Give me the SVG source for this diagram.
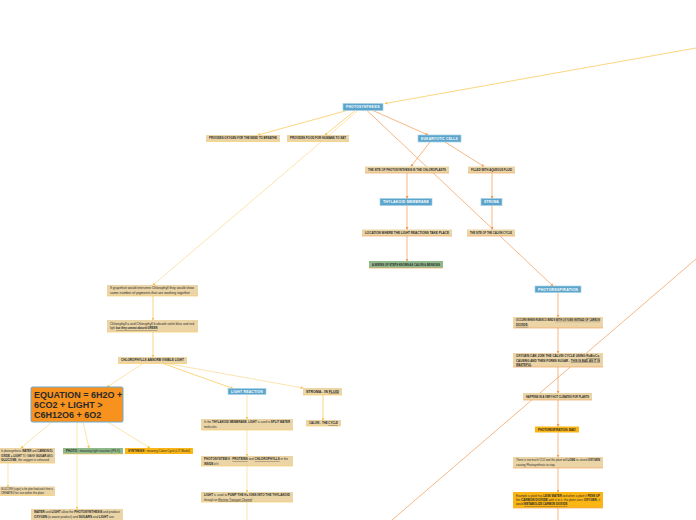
<svg xmlns="http://www.w3.org/2000/svg" width="696" height="520" viewBox="0 0 696 520">
<defs>
<style>
.tan{fill:#ebd5a7}
.blue{fill:#5ba5cc;stroke:#a7d0e6;stroke-width:0.7}
.green{fill:#8fb98b}
.yel{fill:#fbb616}
.bo{stroke:#f3a45c;stroke-width:0.7}
.by{stroke:#f9cd68;stroke-width:0.7}
.ul{stroke:#2a2a2a;stroke-width:0.2}
.t{font-family:"Liberation Sans",Arial,sans-serif;font-size:2.8px;fill:#2a2a2a}
.tb{font-family:"Liberation Sans",Arial,sans-serif;font-size:2.8px;font-weight:bold;fill:#2a2a2a}
.tw{font-family:"Liberation Sans",Arial,sans-serif;font-size:3.5px;font-weight:bold;fill:#ffffff;text-anchor:middle;letter-spacing:0.25px}
.u{text-decoration:underline}
.b{font-weight:bold}
.co{fill:none;stroke:#f29a50;stroke-width:0.7}
.cy{fill:none;stroke:#f8c448;stroke-width:0.7}
.cl{fill:none;stroke:#fbd98c;stroke-width:0.7}
</style>
<marker id="ao" viewBox="0 0 6 6" refX="5" refY="3" markerWidth="3" markerHeight="3" markerUnits="userSpaceOnUse" orient="auto"><path d="M0,0L6,3L0,6z" fill="#f29a50"/></marker>
<marker id="ay" viewBox="0 0 6 6" refX="5" refY="3" markerWidth="3" markerHeight="3" markerUnits="userSpaceOnUse" orient="auto"><path d="M0,0L6,3L0,6z" fill="#f8c448"/></marker>
</defs>
<rect width="696" height="520" fill="#ffffff"/>
<g id="connectors">
<line class="cy" x1="696" y1="48" x2="385" y2="103.5" marker-end="url(#ay)"/>
<line class="cy" x1="347" y1="110.5" x2="258" y2="135" marker-end="url(#ay)"/>
<line class="cy" x1="355" y1="110.5" x2="325" y2="135" marker-end="url(#ay)"/>
<line class="cl" x1="358" y1="110.5" x2="153" y2="285" marker-end="url(#ay)"/>
<line class="co" x1="373" y1="110.5" x2="428" y2="135" marker-end="url(#ao)"/>
<line class="co" x1="367" y1="110.5" x2="553" y2="286" marker-end="url(#ao)"/>
<line class="co" x1="430" y1="142" x2="411" y2="166.5" marker-end="url(#ao)"/>
<line class="co" x1="445" y1="142" x2="484" y2="166.5" marker-end="url(#ao)"/>
<line class="co" x1="407" y1="173" x2="407" y2="198.5" marker-end="url(#ao)"/>
<line class="co" x1="492" y1="173" x2="492" y2="198.5" marker-end="url(#ao)"/>
<line class="co" x1="407" y1="205.5" x2="407" y2="229.5" marker-end="url(#ao)"/>
<line class="co" x1="492" y1="205.5" x2="492" y2="229.5" marker-end="url(#ao)"/>
<line class="co" x1="407" y1="236" x2="407" y2="261" marker-end="url(#ao)"/>
<line class="co" x1="558" y1="292.5" x2="558" y2="317" marker-end="url(#ao)"/>
<line class="co" x1="558" y1="328" x2="558" y2="353" marker-end="url(#ao)"/>
<line class="co" x1="558" y1="367" x2="558" y2="393" marker-end="url(#ao)"/>
<line class="co" x1="558" y1="400" x2="558" y2="426.5" marker-end="url(#ao)"/>
<line class="co" x1="558" y1="432.5" x2="558" y2="457" marker-end="url(#ao)"/>
<line class="co" x1="558" y1="468" x2="558" y2="492" marker-end="url(#ao)"/>
<line class="co" x1="558" y1="508" x2="558" y2="520"/>
<line class="co" x1="696" y1="259" x2="392" y2="520"/>
<line class="cy" x1="153" y1="296" x2="153" y2="320" marker-end="url(#ay)"/>
<line class="cy" x1="153" y1="332" x2="153" y2="357" marker-end="url(#ay)"/>
<line class="cl" x1="143" y1="363.5" x2="107" y2="387" marker-end="url(#ay)"/>
<line class="cy" x1="163" y1="363.5" x2="233" y2="388.5" marker-end="url(#ay)"/>
<line class="cl" x1="167" y1="363.5" x2="303" y2="388" marker-end="url(#ay)"/>
<line class="cl" x1="247" y1="394.5" x2="247" y2="419" marker-end="url(#ay)"/>
<line class="cl" x1="247" y1="430" x2="247" y2="456" marker-end="url(#ay)"/>
<line class="cl" x1="247" y1="466" x2="247" y2="492" marker-end="url(#ay)"/>
<line class="cl" x1="247" y1="502" x2="247" y2="520"/>
<line class="cy" x1="323" y1="395" x2="323" y2="420" marker-end="url(#ay)"/>
<line class="cl" x1="52" y1="422" x2="21" y2="448" marker-end="url(#ay)"/>
<line class="cl" x1="8" y1="463" x2="8" y2="487" marker-end="url(#ay)"/>
<line class="cl" x1="83" y1="422" x2="89" y2="448" marker-end="url(#ay)"/>
<line class="cl" x1="108" y1="422" x2="150" y2="448" marker-end="url(#ay)"/>
<line class="cl" x1="77" y1="422" x2="77" y2="509" marker-end="url(#ay)"/>
</g>
<g id="photosynthesis"><rect class="blue" x="343" y="103.5" width="40" height="7"/><text class="tw" x="363" y="108.3" textLength="34" lengthAdjust="spacingAndGlyphs">PHOTOSYNTHESIS</text></g>
<g id="oxygen"><rect class="tan" x="206" y="135" width="74" height="6.5"/><line class="by" x1="206" y1="141.5" x2="280" y2="141.5"/><text class="tb" x="209" y="139.4" textLength="68" lengthAdjust="spacingAndGlyphs">PROVIDES OXYGEN FOR THE NEED TO BREATHE</text></g>
<g id="food"><rect class="tan" x="287" y="135" width="62" height="6.5"/><line class="by" x1="287" y1="141.5" x2="349" y2="141.5"/><text class="tb" x="290" y="139.4" textLength="56" lengthAdjust="spacingAndGlyphs">PROVIDES FOOD FOR HUMANS TO EAT</text></g>
<g id="eukaryotic"><rect class="blue" x="418" y="135" width="43" height="7"/><text class="tw" x="439.5" y="139.8" textLength="37" lengthAdjust="spacingAndGlyphs">EUKARYOTIC CELLS</text></g>
<g id="chloroplasts"><rect class="tan" x="365" y="166.5" width="84" height="6.5"/><line class="bo" x1="365" y1="173" x2="449" y2="173"/><text class="tb" x="368" y="170.9" textLength="78" lengthAdjust="spacingAndGlyphs">THE SITE OF PHOTOSYNTHESIS IS THE CHLOROPLASTS</text></g>
<g id="aqueous"><rect class="tan" x="468" y="166.5" width="47" height="6.5"/><line class="bo" x1="468" y1="173" x2="515" y2="173"/><text class="tb" x="471" y="170.9" textLength="41" lengthAdjust="spacingAndGlyphs">FILLED WITH AQUEOUS FLUID</text></g>
<g id="thylakoid"><rect class="blue" x="380" y="198.5" width="52" height="7"/><text class="tw" x="406" y="203.3" textLength="46" lengthAdjust="spacingAndGlyphs">THYLAKOID MEMBRANE</text></g>
<g id="stroma"><rect class="blue" x="481" y="198.5" width="21" height="7"/><text class="tw" x="491.5" y="203.3" textLength="15" lengthAdjust="spacingAndGlyphs">STROMA</text></g>
<g id="location"><rect class="tan" x="362" y="229.5" width="90" height="6.5"/><line class="bo" x1="362" y1="236" x2="452" y2="236"/><text class="tb" x="365" y="233.9" textLength="84" lengthAdjust="spacingAndGlyphs">LOCATION WHERE THE LIGHT REACTIONS TAKE PLACE</text></g>
<g id="calvinsite"><rect class="tan" x="467" y="229.5" width="48" height="6.5"/><line class="bo" x1="467" y1="236" x2="515" y2="236"/><text class="tb" x="470" y="233.9" textLength="42" lengthAdjust="spacingAndGlyphs">THE SITE OF THE CALVIN CYCLE</text></g>
<g id="series"><rect class="green" x="369" y="261" width="74" height="7"/><line class="bo" x1="369" y1="268" x2="443" y2="268"/><text class="tb" x="372" y="265.6" textLength="68" lengthAdjust="spacingAndGlyphs">A SERIES OF STEPS KNOWN AS CALVIN &amp; BENSONS</text></g>
<g id="photorespiration"><rect class="blue" x="535" y="286" width="46" height="6.5"/><text class="tw" x="558" y="290.6" textLength="40" lengthAdjust="spacingAndGlyphs">PHOTORESPIRATION</text></g>
<g id="occurs"><rect class="tan" x="513" y="317" width="90" height="11"/><line class="bo" x1="513" y1="328" x2="603" y2="328"/><text class="tb" x="516" y="321.3" textLength="84" lengthAdjust="spacingAndGlyphs">OCCURS WHEN RUBISCO BINDS WITH OXYGEN INSTEAD OF CARBON</text><line class="ul" x1="555" y1="321.8" x2="600" y2="321.8"/><text class="tb u" x="516" y="325.9">DIOXIDE.</text></g>
<g id="oxygenjoins"><rect class="tan" x="513" y="353" width="90" height="14"/><line class="bo" x1="513" y1="367" x2="603" y2="367"/><text class="tb" x="516" y="357.3" textLength="84" lengthAdjust="spacingAndGlyphs">OXYGEN CAN JOIN THE CALVIN CYCLE USING <tspan class="u">RuBisCo,</tspan></text><text class="tb" x="516" y="361.5" textLength="84" lengthAdjust="spacingAndGlyphs">CAUSING AND THEN FORMS SUGAR - <tspan class="u">THIS IS BAD AS IT IS</tspan></text><text class="tb" x="516" y="365.7"><tspan class="u">WASTEFUL</tspan></text></g>
<g id="hot"><rect class="tan" x="523" y="393" width="69" height="7"/><line class="bo" x1="523" y1="400" x2="592" y2="400"/><text class="tb" x="526" y="397.6" textLength="63" lengthAdjust="spacingAndGlyphs">HAPPENS IN A VERY HOT CLIMATES FOR PLANTS</text></g>
<g id="bad"><rect class="yel" x="535" y="426.5" width="44" height="6"/><text class="tb" x="538" y="430.6" textLength="38" lengthAdjust="spacingAndGlyphs">PHOTORESPIRATION: BAD!</text></g>
<g id="notmuch"><rect class="tan" x="513" y="457" width="90" height="11"/><line class="bo" x1="513" y1="468" x2="603" y2="468"/><text class="t" x="516" y="461.3" textLength="84" lengthAdjust="spacingAndGlyphs">There is not much CO2 and the plant will <tspan class="b">LOSE</tspan> its stored <tspan class="b">OXYGEN</tspan></text><text class="t" x="516" y="465.9">causing Photosynthesis to stop.</text></g>
<g id="example"><rect class="yel" x="513" y="492" width="90" height="16"/><line class="bo" x1="513" y1="508" x2="603" y2="508"/><text class="t" x="516" y="496.5" textLength="84" lengthAdjust="spacingAndGlyphs">Example is plant has <tspan class="b">LESS WATER</tspan> and when a plant it <tspan class="b">PENS UP</tspan></text><text class="t" x="516" y="500.8" textLength="84" lengthAdjust="spacingAndGlyphs">the <tspan class="b">CARBON DIOXIDE</tspan> with it in it, the plant uses <tspan class="b">OXYGEN</tspan>, it</text><text class="t" x="516" y="505.1">would <tspan class="b u">METABOLIZE CARBON DIOXIDE</tspan>.</text></g>
<g id="grapefruit"><rect class="tan" x="107" y="285" width="91" height="11"/><line class="by" x1="107" y1="296" x2="198" y2="296"/><text class="t" x="110" y="289.3" textLength="84" lengthAdjust="spacingAndGlyphs">If grapefruit would intervene Chlorophyll they would show</text><text class="t" x="110" y="293.9" textLength="80" lengthAdjust="spacingAndGlyphs">same number of pigments that are working together</text></g>
<g id="chlorophyllab"><rect class="tan" x="107" y="320" width="91" height="12"/><line class="by" x1="107" y1="332" x2="198" y2="332"/><text class="t" x="110" y="324.8" textLength="84" lengthAdjust="spacingAndGlyphs">Chlorophyll a and Chlorophyll b absorb violet blue and red</text><text class="t" x="110" y="329.4">light <tspan class="b u">but they cannot absorb GREEN</tspan></text></g>
<g id="visible"><rect class="tan" x="118" y="357" width="69" height="6.5"/><line class="by" x1="118" y1="363.5" x2="187" y2="363.5"/><text class="tb" x="121" y="361.3" textLength="63" lengthAdjust="spacingAndGlyphs">CHLOROPHYLLS ABSORB VISIBLE LIGHT</text></g>
<g id="equation"><rect x="31" y="387" width="92" height="35" rx="1.5" fill="#f7921e" stroke="#6aa9d0" stroke-width="1"/><text font-family="Liberation Sans, Arial, sans-serif" font-size="9" font-weight="bold" fill="#2a2a2a"><tspan x="34" y="398">EQUATION = 6H2O +</tspan><tspan x="34" y="408">6CO2 + LIGHT &gt;</tspan><tspan x="34" y="418">C6H12O6 + 6O2</tspan></text></g>
<g id="lightreaction"><rect class="blue" x="228" y="388.5" width="38" height="6"/><text class="tw" x="247" y="392.8" textLength="32" lengthAdjust="spacingAndGlyphs">LIGHT REACTION</text></g>
<g id="stromafluid"><rect class="tan" x="303" y="388" width="39" height="7"/><line class="by" x1="303" y1="395" x2="342" y2="395"/><text class="tb" x="306" y="392.5" textLength="33" lengthAdjust="spacingAndGlyphs">STROMA - IN <tspan class="u">FLUID</tspan></text></g>
<g id="calvincycle"><rect class="tan" x="306" y="420" width="35" height="6"/><line class="by" x1="306" y1="426" x2="341" y2="426"/><text class="tb" x="309" y="424.1" textLength="29" lengthAdjust="spacingAndGlyphs">CALVIN - THE <tspan class="u">CYCLE</tspan></text></g>
<g id="splitwater"><rect class="tan" x="201" y="419" width="92" height="11"/><line class="by" x1="201" y1="430" x2="293" y2="430"/><text class="t" x="204" y="423.3" textLength="86" lengthAdjust="spacingAndGlyphs">In the <tspan class="b">THYLAKOID MEMBRANE</tspan>, <tspan class="b">LIGHT</tspan> is used to <tspan class="b">SPLIT WATER</tspan></text><text class="t" x="204" y="427.9">molecules</text></g>
<g id="photosystem"><rect class="tan" x="201" y="456" width="92" height="10"/><line class="by" x1="201" y1="466" x2="293" y2="466"/><text class="t" x="204" y="460.1" textLength="84" lengthAdjust="spacingAndGlyphs"><tspan class="b">PHOTOSYSTEM II</tspan> : <tspan class="b u">PROTEINS</tspan> and <tspan class="b u">CHLOROPHYLLS</tspan> in the</text><text class="t" x="204" y="464.5"><tspan class="b">INSIDE</tspan> of it</text></g>
<g id="pump"><rect class="tan" x="201" y="492" width="92" height="10"/><line class="by" x1="201" y1="502" x2="293" y2="502"/><text class="t" x="204" y="496.1" textLength="86" lengthAdjust="spacingAndGlyphs"><tspan class="b">LIGHT</tspan> is used to <tspan class="b">PUMP THE H+ IONS INTO THE THYLAKOID</tspan></text><text class="t" x="204" y="500.5">through an <tspan class="u">Electron Transport Channel</tspan></text></g>
<g id="waterco2"><rect class="tan" x="-2" y="448" width="57" height="15"/><line class="by" x1="-2" y1="463" x2="55" y2="463"/><text class="t" x="1" y="452.2" textLength="52" lengthAdjust="spacingAndGlyphs">In photosynthesis <tspan class="b">WATER</tspan> and <tspan class="b">CARBON DI-</tspan></text><text class="t" x="1" y="456.6" textLength="52" lengthAdjust="spacingAndGlyphs"><tspan class="b">OXIDE + LIGHT</tspan> TO MAKE <tspan class="b">SUGAR</tspan> AND</text><text class="t" x="1" y="461" textLength="48" lengthAdjust="spacingAndGlyphs"><tspan class="b">GLUCOSE</tspan>, the oxygen is released</text></g>
<g id="glucose"><rect class="tan" x="-2" y="486.5" width="57" height="9"/><line class="by" x1="-2" y1="495.5" x2="55" y2="495.5"/><text class="t" x="1" y="490.2" textLength="52" lengthAdjust="spacingAndGlyphs">GLUCOSE (sugar) is the plant food and it then is</text><text class="t" x="1" y="494.4" textLength="43" lengthAdjust="spacingAndGlyphs">CREATED for use within the plant</text></g>
<g id="photo"><rect class="green" x="63" y="448" width="60" height="6"/><line class="by" x1="63" y1="454" x2="123" y2="454"/><text class="t" x="66" y="452.1" textLength="54" lengthAdjust="spacingAndGlyphs"><tspan class="b">PHOTO</tspan> : meaning light reaction (PS II)</text></g>
<g id="synthesis"><rect class="yel" x="125" y="448" width="68" height="6"/><text class="t" x="128" y="452.1" textLength="62" lengthAdjust="spacingAndGlyphs"><tspan class="b">SYNTHESIS</tspan> : meaning Calvin Cycle (LIT Model)</text></g>
<g id="waterlight"><rect class="tan" x="31" y="509" width="92" height="15"/><text class="t" x="34" y="513.3" textLength="86" lengthAdjust="spacingAndGlyphs"><tspan class="b">WATER</tspan> and <tspan class="b">LIGHT</tspan> allow the <tspan class="b">PHOTOSYNTHESIS</tspan> and produce</text><text class="t" x="34" y="517.7" textLength="80" lengthAdjust="spacingAndGlyphs"><tspan class="b">OXYGEN</tspan> (a waste product) and <tspan class="b">SUGARS</tspan> and <tspan class="b">LIGHT</tspan> use</text></g>
</svg>
